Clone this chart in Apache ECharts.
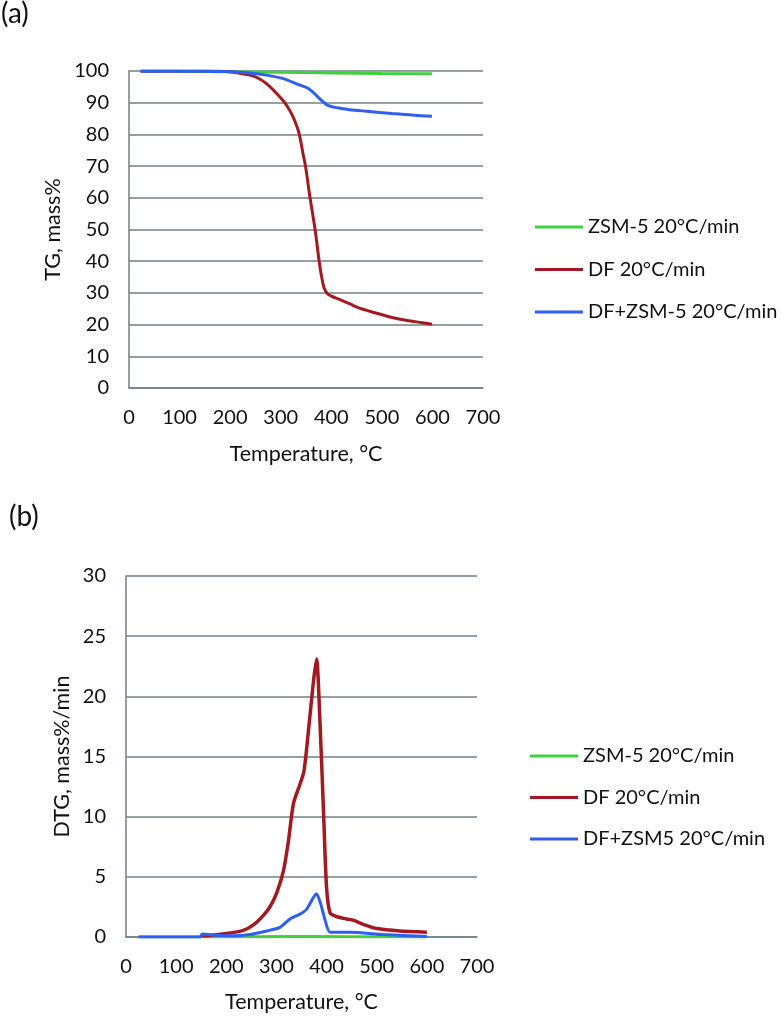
<!DOCTYPE html>
<html>
<head>
<meta charset="utf-8">
<style>
html,body{margin:0;padding:0;background:#fff;}
#c{width:784px;height:1017px;}
</style>
<script src="https://cdn.jsdelivr.net/npm/echarts@6/dist/echarts.min.js"></script>
</head>
<body>
<div id="c"></div>
<script>
// ---- Data (a): TG ----
const xTicks = [0, 100, 200, 300, 400, 500, 600, 700];
const tgZsmT = [23, 100, 200, 300, 400, 500, 599];
const tgZsmV = [100, 99.9, 99.8, 99.6, 99.4, 99.2, 99.1];
const tgDfT = [23, 100, 150, 200, 239, 255, 272, 292, 308, 318, 326, 332, 336, 340, 344, 349, 358, 368, 376, 381, 386, 392, 400, 415, 437, 457, 490, 516, 550, 580, 599];
const tgDfV = [100, 100, 100, 99.8, 98.7, 97.8, 96, 92.9, 90, 87.5, 85, 82.5, 80.5, 77.5, 74, 70, 60, 50, 40, 35, 31.5, 29.8, 29, 28, 26.5, 25.1, 23.6, 22.4, 21.3, 20.6, 20.1];
const tgMixT = [23, 100, 150, 200, 239, 272, 305, 337, 351, 362, 371, 380, 389, 396, 405, 420, 436, 470, 520, 560, 599];
const tgMixV = [99.9, 99.9, 99.9, 99.8, 99.4, 98.7, 97.6, 95.6, 94.8, 93.6, 92.2, 90.8, 89.6, 89.0, 88.6, 88.2, 87.8, 87.3, 86.6, 86.1, 85.7];

// ---- Data (b): DTG ----
const dtgZsmT = [25, 150, 250, 350, 450, 600];
const dtgZsmV = [0, 0, 0.02, 0.05, 0.03, 0];
const dtgDfT = [151, 154, 201, 234, 254, 274, 287, 300, 314, 324, 334, 347, 355, 364, 374, 380, 387, 394, 400, 407, 420, 440, 453, 473, 500, 546, 600];
const dtgDfV = [0.2, 0.1, 0.3, 0.55, 1.0, 1.8, 2.5, 3.6, 5.5, 8.0, 11.1, 12.7, 13.8, 17.2, 21.3, 23.1, 17.7, 10.3, 4.1, 2.0, 1.7, 1.5, 1.4, 1.05, 0.7, 0.5, 0.4];
const dtgMixT = [25, 100, 148, 152, 180, 214, 247, 281, 307, 327, 347, 360, 374, 380, 388, 397, 407, 447, 513, 600];
const dtgMixV = [0, 0, 0, 0.25, 0.15, 0.1, 0.2, 0.5, 0.8, 1.5, 1.9, 2.3, 3.3, 3.6, 2.8, 1.4, 0.4, 0.4, 0.2, 0.05];

const namesA = ['ZSM-5 20°C/min', 'DF 20°C/min', 'DF+ZSM-5 20°C/min'];
const namesB = ['ZSM-5 20°C/min', 'DF 20°C/min', 'DF+ZSM5 20°C/min'];

const zip = (t, v) => t.map((x, i) => [x, v[i]]);
const FONT = 'Lato';
const TXT = '#111';
const GRID = '#6f8188';
const COLORS = ['#3fcf3f', '#a3191f', '#2e5ff0'];
const FS = 21.5;

const axisCommonX = (gi, gap) => ({
  type: 'value', gridIndex: gi, min: 0, max: 700, interval: 100,
  name: 'Temperature, °C', nameLocation: 'middle', nameGap: gap,
  nameTextStyle: {fontFamily: FONT, fontSize: FS, color: TXT},
  axisLine: {show: true, lineStyle: {color: GRID, width: 1.5}},
  axisTick: {show: false}, splitLine: {show: false},
  axisLabel: {fontFamily: FONT, fontSize: 20, color: TXT, margin: 20}
});
const axisCommonY = (gi, max, interval, name, gap) => ({
  type: 'value', gridIndex: gi, min: 0, max: max, interval: interval,
  name: name, nameLocation: 'middle', nameGap: gap, nameRotate: 90,
  nameTextStyle: {fontFamily: FONT, fontSize: FS, color: TXT},
  axisLine: {show: true, lineStyle: {color: GRID, width: 1.5}},
  axisTick: {show: false},
  splitLine: {show: true, lineStyle: {color: GRID, width: 1.5}},
  axisLabel: {fontFamily: FONT, fontSize: 20, color: TXT, margin: 20}
});
const lineSeries = (name, data, gi, ci, w, smooth) => ({
  type: 'line', name: name, data: data, xAxisIndex: gi, yAxisIndex: gi,
  showSymbol: false, symbol: 'none', smooth: smooth,
  lineStyle: {color: COLORS[ci], width: w}, itemStyle: {color: COLORS[ci]},
  animation: false
});
const legendBase = {
  orient: 'vertical', icon: 'rect', itemWidth: 48, itemHeight: 3, padding: 0,
  textStyle: {fontFamily: FONT, fontSize: 20, color: TXT}, selectedMode: false
};

const chart = echarts.init(document.getElementById('c'));
chart.setOption({
  backgroundColor: '#fff',
  animation: false,
  grid: [
    {left: 129, top: 71, width: 354, height: 317},
    {left: 126, top: 576, width: 351, height: 361}
  ],
  xAxis: [axisCommonX(0, 55), axisCommonX(1, 54)],
  yAxis: [axisCommonY(0, 100, 10, 'TG, mass%', 65), axisCommonY(1, 30, 5, 'DTG, mass%/min', 53)],
  legend: [
    Object.assign({}, legendBase, {data: namesA, left: 535, top: 217, itemGap: 22.5}),
    Object.assign({}, legendBase, {data: namesB, left: 530, top: 746, itemGap: 21.5})
  ],
  graphic: [
    {type: 'text', left: 1, top: 0, style: {text: '(a)', fontFamily: FONT, fontSize: 28, fill: TXT}},
    {type: 'text', left: 9, top: 503, style: {text: '(b)', fontFamily: FONT, fontSize: 28, fill: TXT}}
  ],
  series: [
    lineSeries(namesA[0], zip(tgZsmT, tgZsmV), 0, 0, 3, 0.3),
    lineSeries(namesA[1], zip(tgDfT, tgDfV), 0, 1, 3, 0.3),
    lineSeries(namesA[2], zip(tgMixT, tgMixV), 0, 2, 3, 0.3),
    lineSeries(namesB[0], zip(dtgZsmT, dtgZsmV), 1, 0, 3, false),
    lineSeries(namesB[1], zip(dtgDfT, dtgDfV), 1, 1, 3.5, 0.25),
    lineSeries(namesB[2], zip(dtgMixT, dtgMixV), 1, 2, 3, 0.2)
  ]
});
</script>
</body>
</html>
